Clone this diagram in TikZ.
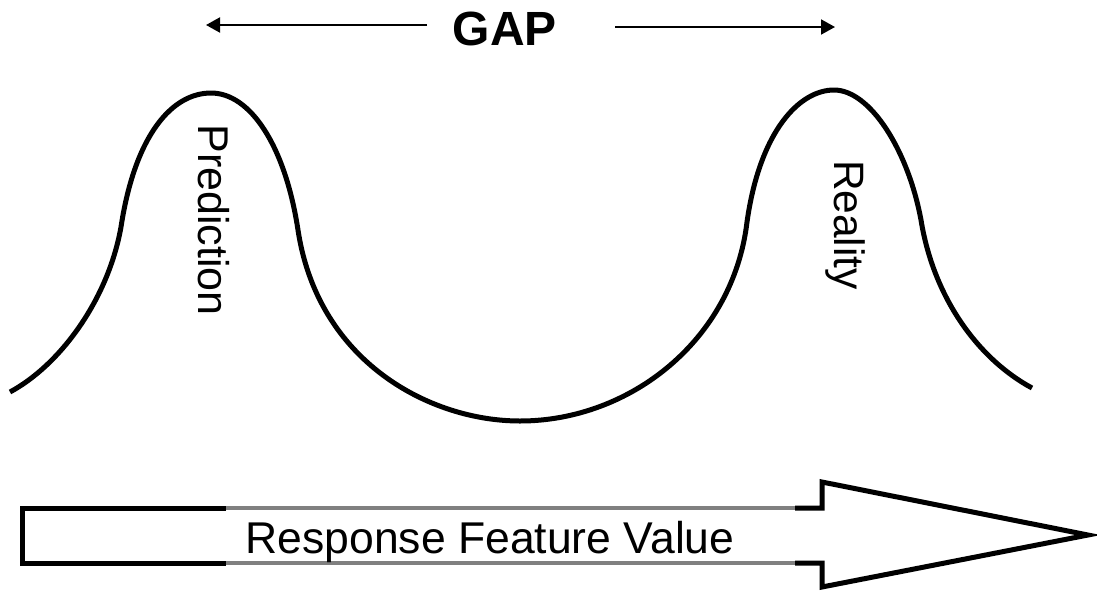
\documentclass[tikz,border=0pt]{standalone}
\usepackage{fontspec}
\setmainfont{Liberation Sans}
\usetikzlibrary{arrows.meta}
\begin{document}
\begin{tikzpicture}[x=1pt,y=-1pt,
  curve/.style={line width=5pt,black},
  blackedge/.style={line width=5pt,black,line join=miter},
  grayedge/.style={line width=4.5pt,color={rgb,255:red,128;green,128;blue,128}},
  gaparrow/.style={line width=2pt,-{Triangle[length=14pt,width=15pt]}},
  label/.style={inner sep=0pt,text=black}]
\useasboundingbox (0,0) rectangle (1097,592);
% distribution curve
\draw[curve] (10,392) .. controls (60,365) and (108,300) .. (121,227)
  .. controls (135,135) and (172,93) .. (211,93)
  .. controls (250,93) and (285,145) .. (298,230)
  .. controls (318,362) and (430,421) .. (520,421)
  .. controls (630,421) and (733,340) .. (747,222)
  .. controls (760,130) and (800,90) .. (834,90)
  .. controls (870,90) and (908,150) .. (921,220)
  .. controls (934,300) and (980,360) .. (1032,388);
% labels on peaks
\node[label,rotate=-90,font=\fontsize{43}{48}\selectfont] (pred) at (214,220) {Prediction};
\node[label,rotate=-90,font=\fontsize{42.5}{46}\selectfont] (real) at (845,225) {Reality};
% GAP
\node[label,anchor=base,font=\bfseries\fontsize{48}{52}\selectfont] (gap) at (505,45) {GAP};
\coordinate (gl) at (206,25);
\coordinate (gr) at (835,27);
\coordinate (gls) at (427,25);
\coordinate (grs) at (615,27);
\draw[gaparrow] (gls) -- (gl);
\draw[gaparrow] (grs) -- (gr);
% big arrow
\coordinate (a1) at (226,508);
\coordinate (a2) at (22,508);
\coordinate (a3) at (22,563);
\coordinate (a4) at (226,563);
\coordinate (b1) at (795,508);
\coordinate (b2) at (822,508);
\coordinate (b3) at (822,482);
\coordinate (tip) at (1088,535);
\coordinate (b5) at (822,587);
\coordinate (b6) at (822,563);
\coordinate (b7) at (795,563);
\draw[grayedge] (a1) -- (b1);
\draw[grayedge] (a4) -- (b7);
\draw[blackedge] (a1) -- (a2) -- (a3) -- (a4);
\draw[blackedge] (b1) -- (b2) -- (b3) -- (tip) -- (b5) -- (b6) -- (b7);
\node[label,anchor=base,font=\fontsize{44.5}{48}\selectfont] (rfv) at (490,553) {Response Feature Value};
\end{tikzpicture}
\end{document}
